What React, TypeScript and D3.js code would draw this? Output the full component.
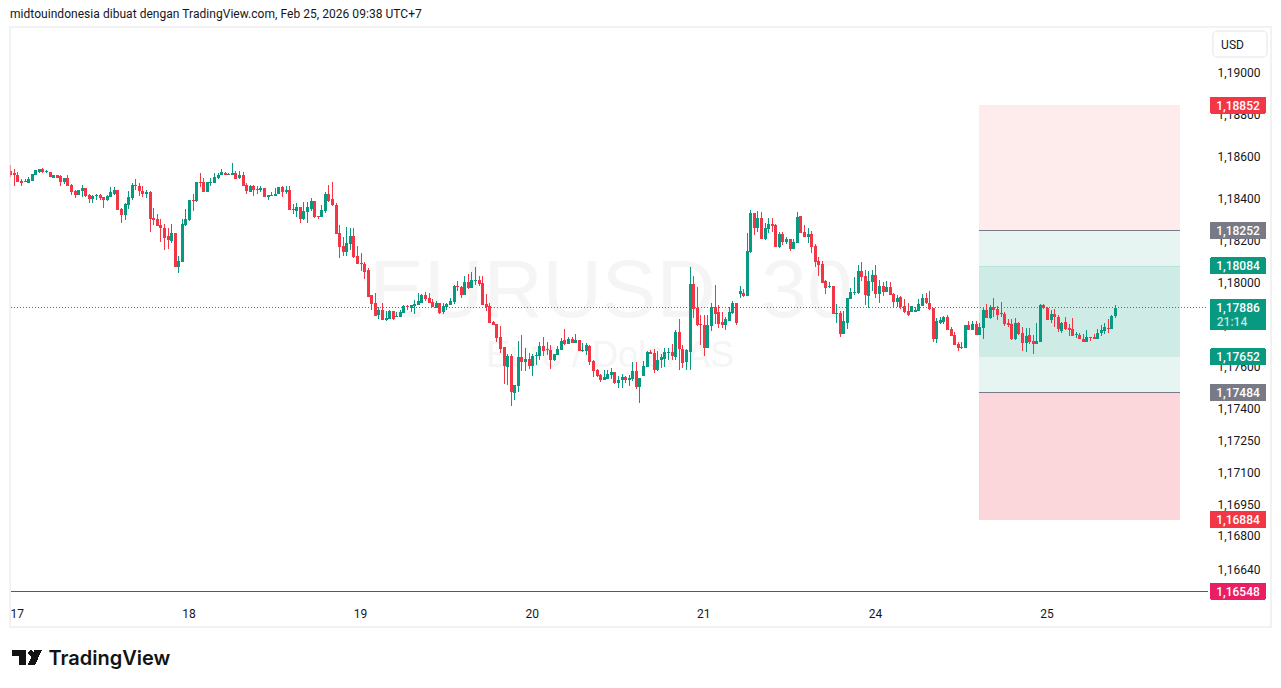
import { useRef, useEffect } from "react";
import * as d3 from "d3";

// quotes in 1e-5 units, one value per 30 minute bar
const opens = [
  118535,118527,118519,118491,118485,118478,118491,118516,118534,118548,
  118534,118534,118502,118516,118511,118486,118505,118472,118439,118420,
  118440,118453,118420,118401,118417,118420,118410,118396,118410,118429,
  118444,118354,118325,118373,118406,118472,118463,118439,118425,118434,
  118310,118306,118278,118264,118226,118202,118240,118079,118103,118278,
  118302,118396,118392,118482,118482,118434,118477,118477,118505,118515,
  118529,118519,118519,118529,118505,118519,118472,118434,118463,118450,
  118444,118453,118410,118415,118415,118429,118458,118434,118444,118354,
  118344,118363,118306,118339,118354,118392,118321,118316,118344,118425,
  118401,118372,
  118240,118178,118150,118188,118226,118131,118098,118093,
  118065,117946,117908,117852,117875,117828,117833,117871,117844,117842,
  117861,117894,117885,117894,117899,117908,117946,117932,117913,117885,
  117908,117866,117889,117899,117913,117989,117984,117946,118008,117979,
  118014,118017,118003,117904,117894,117818,117809,117747,117700,117605,
  117657,117482,117515,117653,117629,117643,117610,117657,117657,117705,
  117691,117686,117639,117662,117686,117733,117714,117738,117719,117733,
  117681,117681,117705,117634,117591,117568,117544,117549,117568,117582,
  117530,117544,117558,117544,117549,117586,117511,117563,117605,117676,
  117672,117591,117639,117643,117672,117676,117653,117771,117691,117629,
  117676,117998,117885,117809,117804,117695,117800,117889,117866,117818,
  117804,117823,117861,117908,117951,117956,117942,118150,118334,118263,
  118311,118211,118259,118282,118278,118174,118235,118197,118211,118164,
  118192,118320,118245,118221,118235,118178,118107,118093,118013,117984,
  117989,117856,117861,117762,117814,117927,117956,117956,118060,118036,
  117942,118008,118041,117951,117989,117960,117984,117951,117913,117937,
  117894,117871,117866,117866,117871,117894,117932,117908,117885,117738,
  117814,117818,117842,117785,117757,117714,117695,117695,117804,117781,
  117809,117757,117790,117875,117838,117890,117881,117857,117857,117814,
  117810,117739,117814,117767,117720,117758,117729,117715,117724,117900,
  117885,117829,117857,117843,117777,117819,117791,117786,117758,117758,
  117739,117724,117748,117748,117739,117767,117777,117791,117786,117848,
];
const highs = [
  118567,118546,118534,118500,118497,118510,118524,118543,118548,118551,
  118543,118534,118519,118519,118519,118505,118519,118475,118444,118448,
  118472,118453,118428,118420,118425,118425,118412,118420,118458,118458,
  118448,118358,118382,118439,118477,118500,118477,118467,118444,118439,
  118358,118330,118306,118283,118264,118283,118240,118131,118306,118354,
  118396,118425,118482,118529,118505,118486,118505,118529,118529,118548,
  118534,118529,118576,118538,118538,118534,118477,118472,118472,118463,
  118467,118453,118420,118434,118453,118458,118463,118463,118463,118377,
  118382,118363,118387,118387,118406,118392,118321,118373,118434,118472,
  118486,118385,
  118278,118221,118268,118263,118263,118178,118145,118102,
  118074,117946,117956,117889,117908,117871,117875,117871,117866,117875,
  117899,117899,117899,117923,117956,117951,117960,117956,117927,117918,
  117908,117908,117908,117932,117994,118013,117989,118036,118046,118055,
  118079,118036,118036,117951,117908,117823,117809,117800,117700,117667,
  117667,117520,117728,117757,117695,117672,117667,117676,117724,117747,
  117724,117710,117667,117705,117743,117785,117747,117747,117762,117733,
  117719,117719,117710,117639,117596,117572,117591,117591,117601,117582,
  117563,117572,117563,117568,117629,117629,117553,117634,117681,117686,
  117691,117681,117667,117695,117695,117714,117781,117833,117710,117691,
  118079,118036,117984,117852,117852,117852,117908,117994,117899,117866,
  117842,117889,117918,117908,117989,117975,118240,118349,118334,118344,
  118339,118287,118311,118311,118282,118245,118245,118221,118211,118211,
  118339,118320,118278,118263,118249,118188,118126,118107,118017,118008,
  117989,117904,117871,117871,117932,117979,118031,118088,118102,118065,
  118060,118065,118088,118017,118008,118013,118008,117956,117946,117942,
  117927,117908,117894,117889,117927,117951,117956,117965,117885,117837,
  117842,117847,117852,117795,117771,117724,117724,117804,117823,117823,
  117823,117814,117885,117904,117900,117933,117895,117914,117866,117833,
  117833,117838,117819,117795,117791,117791,117758,117814,117904,117904,
  117890,117876,117881,117852,117819,117843,117810,117838,117772,117767,
  117762,117781,117748,117762,117786,117805,117814,117833,117852,117900,
];
const lows = [
  118510,118464,118486,118464,118482,118478,118491,118516,118526,118526,
  118529,118507,118502,118502,118467,118475,118464,118420,118406,118420,
  118410,118410,118382,118382,118396,118396,118358,118392,118410,118420,
  118349,118287,118302,118354,118396,118444,118415,118410,118406,118245,
  118278,118273,118197,118160,118164,118193,118079,118051,118103,118273,
  118297,118344,118387,118458,118434,118434,118467,118477,118500,118515,
  118515,118519,118519,118500,118496,118467,118425,118434,118415,118429,
  118434,118410,118396,118415,118415,118429,118410,118425,118349,118330,
  118316,118287,118302,118287,118344,118311,118306,118316,118335,118387,
  118368,118235,
  118121,118131,118131,118159,118121,118093,118060,118022,
  117937,117875,117847,117833,117828,117823,117833,117828,117842,117842,
  117861,117875,117866,117856,117899,117908,117918,117908,117889,117885,
  117856,117856,117875,117899,117904,117965,117932,117946,117975,117979,
  117994,117989,117899,117871,117814,117804,117724,117672,117525,117520,
  117421,117449,117487,117586,117586,117596,117563,117615,117639,117657,
  117662,117596,117634,117662,117686,117710,117714,117719,117719,117681,
  117676,117662,117615,117558,117558,117534,117544,117549,117549,117525,
  117506,117506,117530,117515,117539,117501,117435,117563,117605,117667,
  117577,117586,117601,117605,117639,117639,117639,117591,117601,117591,
  117591,117837,117800,117710,117658,117695,117776,117809,117790,117790,
  117781,117823,117856,117804,117932,117937,117942,118145,118230,118245,
  118211,118207,118240,118245,118174,118169,118183,118188,118155,118164,
  118192,118240,118221,118192,118145,118079,118036,118003,117951,117979,
  117856,117814,117747,117762,117785,117927,117946,117951,118013,117899,
  117885,117965,117932,117908,117942,117960,117946,117889,117889,117880,
  117861,117847,117866,117866,117871,117894,117904,117875,117724,117719,
  117809,117809,117781,117752,117710,117681,117691,117695,117781,117781,
  117757,117757,117738,117837,117833,117843,117829,117843,117800,117795,
  117734,117734,117758,117682,117677,117715,117668,117715,117724,117881,
  117829,117814,117795,117772,117767,117781,117753,117753,117743,117739,
  117724,117724,117729,117739,117739,117753,117762,117767,117786,117838,
];
const closes = [
  118519,118515,118486,118478,118488,118496,118521,118543,118548,118530,
  118538,118507,118515,118502,118486,118505,118467,118436,118420,118444,
  118453,118415,118401,118415,118420,118407,118396,118415,118434,118444,
  118349,118325,118377,118410,118472,118463,118439,118425,118434,118306,
  118305,118273,118264,118216,118207,118240,118079,118107,118283,118306,
  118396,118392,118482,118477,118434,118482,118482,118510,118519,118534,
  118515,118524,118526,118500,118519,118467,118439,118463,118444,118447,
  118453,118410,118420,118420,118429,118458,118434,118448,118349,118349,
  118363,118306,118344,118363,118392,118316,118316,118349,118425,118392,
  118373,118235,
  118173,118150,118192,118226,118126,118093,118095,118055,
  117937,117904,117847,117875,117828,117836,117871,117833,117847,117866,
  117894,117888,117899,117904,117918,117946,117927,117908,117889,117908,
  117861,117894,117904,117918,117989,117986,117946,118008,117979,118017,
  118017,117998,117899,117889,117814,117804,117743,117691,117610,117657,
  117487,117520,117653,117629,117643,117610,117657,117662,117705,117681,
  117686,117639,117667,117691,117728,117714,117738,117719,117733,117681,
  117686,117710,117629,117586,117563,117544,117558,117572,117582,117530,
  117544,117558,117544,117553,117586,117511,117553,117610,117676,117667,
  117591,117639,117653,117676,117676,117658,117771,117691,117624,117686,
  117998,117880,117804,117804,117695,117804,117889,117856,117809,117804,
  117833,117866,117908,117814,117965,117942,118155,118334,118263,118311,
  118211,118263,118282,118273,118174,118235,118197,118211,118164,118197,
  118316,118240,118221,118235,118174,118102,118088,118003,117979,117989,
  117856,117861,117762,117823,117932,117960,117960,118060,118031,117946,
  118013,118041,117951,117989,117960,117984,117946,117913,117932,117889,
  117866,117852,117894,117875,117904,117932,117908,117880,117738,117823,
  117828,117842,117781,117752,117710,117695,117700,117804,117781,117809,
  117757,117795,117875,117837,117890,117876,117852,117862,117810,117805,
  117739,117814,117762,117720,117753,117724,117715,117729,117900,117885,
  117829,117857,117843,117786,117814,117786,117781,117753,117762,117739,
  117724,117748,117743,117739,117767,117781,117795,117786,117848,117886,
];

const dayLabels = ["17", "18", "19", "20", "21", "24", "25"];
const dayStartBars = [2, 50, 98, 146, 194, 242, 290];

const priceTicks = [1.19, 1.188, 1.186, 1.184, 1.182, 1.18, 1.178, 1.176, 1.174, 1.1725, 1.171, 1.1695, 1.168, 1.1664];

const lastPrice = 1.17886;
const countdown = "21:14";
const priceTags = [
  { price: 1.18852, color: "#F23645" },
  { price: 1.18252, color: "#787B86" },
  { price: 1.18084, color: "#089981" },
  { price: 1.17652, color: "#089981" },
  { price: 1.17484, color: "#787B86" },
  { price: 1.16884, color: "#F23645" },
  { price: 1.16548, color: "#E91E63" },
];

const UP = "#089981";
const DOWN = "#F23645";
const FONT = "Roboto, 'Liberation Sans', sans-serif";

const fmt = (p: number) => p.toFixed(5).replace(".", ",");

const App = () => {
  const ref = useRef<SVGSVGElement | null>(null);

  useEffect(() => {
    if (!ref.current) return;
    const svg = d3.select(ref.current);
    svg.selectAll("*").remove();

    const x = d3.scaleLinear().domain([0, opens.length - 1]).range([10.2, 1115]);
    const y = d3.scaleLog().domain([1.18852, 1.16548]).range([105, 591]);
    const py = (p: number) => Math.round(y(p));

    const paneRight = 1208;

    svg
      .append("text")
      .attr("x", 10)
      .attr("y", 18)
      .style("font-family", FONT)
      .style("font-size", "12px")
      .style("letter-spacing", "0.04px")
      .style("fill", "#131722")
      .text("midtouindonesia dibuat dengan TradingView.com, Feb 25, 2026 09:38 UTC+7");

    svg
      .append("rect")
      .attr("x", 10)
      .attr("y", 27)
      .attr("width", 1261)
      .attr("height", 600)
      .attr("fill", "#fff")
      .attr("stroke", "#F2F2F3")
      .attr("stroke-width", 2);

    // Watermark
    const mark = svg.append("g").style("font-family", "'Liberation Sans', sans-serif").style("fill", "#F5F5F5").attr("text-anchor", "middle");
    mark.append("text").attr("x", 611).attr("y", 317).style("font-size", "82px").text("EURUSD, 30");
    mark.append("text").attr("x", 610).attr("y", 367).style("font-size", "36px").text("Euro / Dolar AS");

    // Position zones
    const zones = [
      { top: 1.18852, bottom: 1.18252, fill: "#FEEBEC" },
      { top: 1.18252, bottom: 1.17484, fill: "#E6F5F2" },
      { top: 1.18084, bottom: 1.17652, fill: "#CFEBE6" },
      { top: 1.17484, bottom: 1.16884, fill: "#FBD7DB" },
    ];
    svg
      .append("g")
      .selectAll("rect")
      .data(zones)
      .join("rect")
      .attr("x", 979)
      .attr("width", 201)
      .attr("y", (d) => py(d.top))
      .attr("height", (d) => py(d.bottom) - py(d.top))
      .attr("fill", (d) => d.fill);

    const hline = (yPos: number, x0: number, x1: number, color: string) =>
      svg
        .append("line")
        .attr("x1", x0)
        .attr("x2", x1)
        .attr("y1", yPos + 0.5)
        .attr("y2", yPos + 0.5)
        .attr("stroke", color);

    hline(Math.floor(y(1.18252)), 979, 1180, "#787B86");
    hline(Math.floor(y(1.17484)), 979, 1180, "#787B86");
    hline(py(1.18084), 979, 1180, "#B9E2DA");
    hline(py(1.16548), 11, paneRight, "#C9205C");
    hline(Math.floor(y(lastPrice)), 11, paneRight, UP).attr("stroke-dasharray", "1 2");

    // Candles
    svg.append("clipPath").attr("id", "pane").append("rect").attr("x", 10.5).attr("y", 28).attr("width", 1200).attr("height", 598);
    const bars = d3.range(opens.length);
    const color = (i: number) => (closes[i] >= opens[i] ? UP : DOWN);
    const candles = svg.append("g").attr("clip-path", "url(#pane)");
    candles
      .selectAll("rect.wick")
      .data(bars)
      .join("rect")
      .attr("class", "wick")
      .attr("x", (i) => Math.round(x(i)))
      .attr("width", 1)
      .attr("y", (i) => py(highs[i] / 1e5))
      .attr("height", (i) => Math.max(1, py(lows[i] / 1e5) - py(highs[i] / 1e5)))
      .attr("fill", color);
    candles
      .selectAll("rect.body")
      .data(bars)
      .join("rect")
      .attr("class", "body")
      .attr("x", (i) => Math.round(x(i)) - 1)
      .attr("width", 3)
      .attr("y", (i) => py(Math.max(opens[i], closes[i]) / 1e5))
      .attr("height", (i) => Math.max(1, Math.abs(py(opens[i] / 1e5) - py(closes[i] / 1e5))))
      .attr("fill", color);

    // Time axis
    svg
      .append("g")
      .selectAll("text")
      .data(dayLabels)
      .join("text")
      .attr("x", (_, i) => x(dayStartBars[i]))
      .attr("y", 618)
      .attr("text-anchor", "middle")
      .style("font-family", FONT)
      .style("font-size", "12px")
      .style("fill", "#131722")
      .text((d) => d);

    // Price axis
    svg
      .append("g")
      .selectAll("text")
      .data(priceTicks)
      .join("text")
      .attr("x", 1239)
      .attr("y", (d) => y(d) + 3)
      .attr("text-anchor", "middle")
      .style("font-family", FONT)
      .style("font-size", "12px")
      .style("fill", "#131722")
      .text(fmt);

    const tags = svg.append("g").selectAll("g").data(priceTags).join("g");
    tags
      .append("rect")
      .attr("x", 1210)
      .attr("width", 56)
      .attr("y", (d) => y(d.price) - 8.5)
      .attr("height", 17)
      .attr("rx", 1)
      .attr("fill", (d) => d.color);
    tags
      .append("text")
      .attr("x", 1238)
      .attr("y", (d) => y(d.price) + 4.5)
      .attr("text-anchor", "middle")
      .style("font-family", FONT)
      .style("font-size", "12px")
      .style("font-weight", 500)
      .style("fill", "#fff")
      .text((d) => fmt(d.price));

    const last = svg.append("g");
    last.append("rect").attr("x", 1210).attr("width", 56).attr("y", y(lastPrice) - 8.5).attr("height", 31).attr("rx", 1).attr("fill", UP);
    last
      .append("text")
      .attr("x", 1238)
      .attr("y", y(lastPrice) + 4)
      .attr("text-anchor", "middle")
      .style("font-family", FONT)
      .style("font-size", "12px")
      .style("font-weight", 500)
      .style("fill", "#fff")
      .text(fmt(lastPrice));
    last
      .append("text")
      .attr("x", 1232)
      .attr("y", y(lastPrice) + 18)
      .attr("text-anchor", "middle")
      .style("font-family", FONT)
      .style("font-size", "12px")
      .style("font-weight", 500)
      .style("fill", "#fff")
      .style("fill-opacity", 0.75)
      .text(countdown);

    // Currency button
    svg.append("rect").attr("x", 1213).attr("y", 31).attr("width", 54).attr("height", 26).attr("rx", 4).attr("fill", "#fff").attr("stroke", "#F0F1F3").attr("stroke-width", 1.5);
    svg
      .append("text")
      .attr("x", 1232.5)
      .attr("y", 49)
      .attr("text-anchor", "middle")
      .style("font-family", FONT)
      .style("font-size", "12px")
      .style("fill", "#131722")
      .text("USD");

    // Logo
    const logo = svg.append("g").attr("fill", "#131313");
    logo.append("path").attr("d", "M12 650H26V665H19V656H12Z");
    logo.append("circle").attr("cx", 31).attr("cy", 653).attr("r", 2.8);
    logo.append("path").attr("d", "M34.5 650H42L35 665H27.5Z");
    logo
      .append("text")
      .attr("x", 48.5)
      .attr("y", 664.5)
      .style("font-family", "Inter, 'Liberation Sans', sans-serif")
      .style("font-size", "20px")
      .style("font-weight", 600)
      .text("TradingView");
  }, []);

  return <svg ref={ref} width={1281} height={688} style={{ position: "absolute", left: 0, top: 0, display: "block", background: "#fff" }} shapeRendering="crispEdges" />;
};

export default App;
